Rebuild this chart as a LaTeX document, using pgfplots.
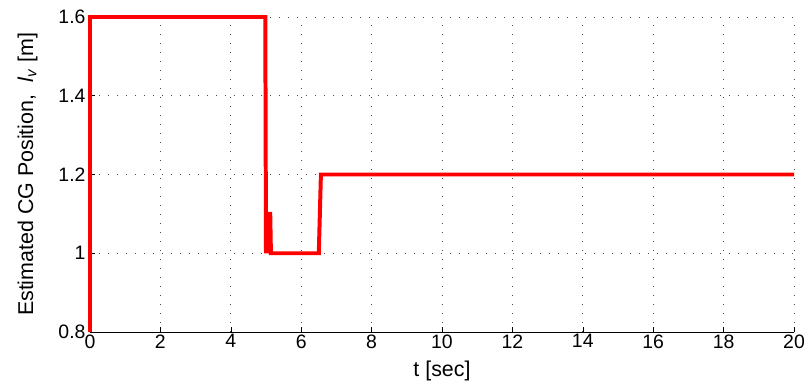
\documentclass[border=0pt]{standalone}
\usepackage{pgfplots}
\pgfplotsset{compat=1.18}
\usepackage{fontspec}
\setmainfont{Liberation Sans}

\begin{document}
\begin{tikzpicture}
\useasboundingbox (-90bp,-57bp) rectangle (719bp,332bp);
\begin{axis}[
  at={(0,0)}, anchor=south west,
  scale only axis,
  width=704bp, height=315bp,
  xmin=0, xmax=20, ymin=0.8, ymax=1.6,
  xtick={0,2,...,20},
  ytick={0.8,1,1.2,1.4,1.6},
  yticklabels={0.8,1,1.2,1.4,1.6},
  axis lines=left,
  axis line style={-, line width=0.8pt},
  tick style={black, line width=0.6pt},
  tick align=inside,
  major tick length=5bp,
  grid=major,
  major grid style={dash pattern=on 1bp off 8bp, black!70, line width=0.7pt},
  tick label style={font=\fontsize{19.5}{22}\selectfont},
  xticklabel style={yshift=1bp},
  yticklabel style={xshift=-1bp},
  label style={font=\fontsize{21.5}{25}\selectfont},
  /pgf/number format/assume math mode=true,
  xlabel={t [sec]},
  ylabel={Estimated CG Position,\ \ \textit{l}\textsubscript{\textit{v}} [m]},
  xlabel style={yshift=-6bp},
  ylabel style={yshift=14bp},
  clip=false,
]
\addplot[red, line width=4pt, line join=miter] coordinates {
  (0,0.8) (0,1.6) (4.98,1.6) (5.0,1.0) (5.03,1.1) (5.05,1.0) (5.09,1.1)
  (5.12,1.1) (5.14,1.0) (6.5,1.0) (6.56,1.2) (20,1.2)
};
\end{axis}
\end{tikzpicture}
\end{document}
